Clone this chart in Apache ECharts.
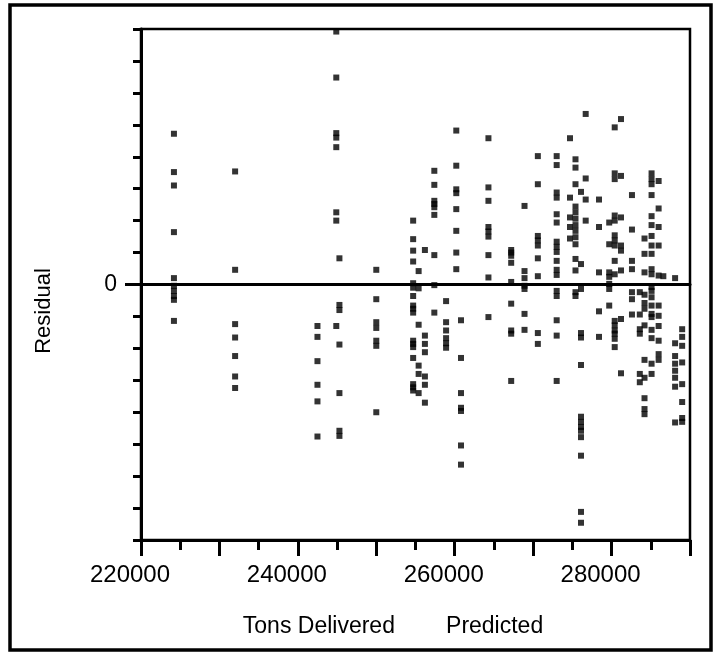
<!DOCTYPE html>
<html>
<head>
<meta charset="utf-8">
<title>Residual vs Predicted</title>
<script src="https://cdn.jsdelivr.net/npm/echarts@6/dist/echarts.min.js"></script>
<style>
html, body { margin: 0; padding: 0; background: #fff; }
#chart { width: 717px; height: 654px; }
</style>
</head>
<body>
<div id="chart"></div>
<script>
// predicted tons delivered (one value per vertical group of points)
const predictedLevels = [
  224200, 232000, 242500, 244900, 245300, 250000, 254700, 255400, 256200, 257400,
  258900, 260200, 260800, 264300, 267200, 268900, 270600, 273000, 274700, 275400,
  276100, 276700, 278400, 279700, 280400, 281200, 282600, 283600, 284200, 285100,
  286000, 286600, 288100, 289000
]

// residuals, same order as predictedLevels
const residualGroups = [
  [23600, 17600, 15500, 8200, 1000, -200, -1000, -1800, -2400, -5700],
  [17700, 2300, -6200, -8300, -11200, -14400, -16200],
  [-6500, -8200, -12000, -15700, -18300, -23800],
  [39600, 32400, 23700, 23000, 21500, 11300, 10000, -6500],
  [4100, -3200, -4000, -9400, -17000, -22900, -23700],
  [2300, -2300, -5900, -6800, -8800, -9600, -20000],
  [10000, 7100, 5300, 3600, 200, -500, -1800, -3300, -3800, -4400, -8800, -9300, -9800, -11500, -15600, -16100, -16600],
  [2100, -600, -6300, -12700, -14000, -17000],
  [5400, -8000, -9300, -10600, -14400, -15700, -18500],
  [17800, 15600, 13100, 12600, 12100, 10900, 4600, -100, -4400],
  [-2600, -5900, -7200, -8400, -9200, -9900],
  [24100, 18600, 14900, 14300, 11800, 8400, 5000, 2400],
  [-5600, -11500, -17000, -19300, -19800, -25200, -28200],
  [22900, 15200, 13100, 9000, 8300, 7500, 4600, 1100, -5100],
  [5400, 5000, 4500, 3400, 400, -3000, -7200, -7700, -15100],
  [12300, 2100, 1000, -200, -700, -4600, -7100],
  [20100, 15700, 7600, 6900, 6100, 4100, 1300, -7600, -9300],
  [20100, 18700, 14400, 13600, 11000, 9700, 6700, 5900, 5100, 3700, 2300, 1500, -1000, -1800, -5600, -8000, -15100],
  [22900, 13600, 10500, 9000, 7200],
  [19600, 18300, 15700, 12200, 11300, 10300, 9300, 8400, 7400, 6300, 4000, 2200, -1200, -1800],
  [14500, 3200, -700, -7600, -8300, -12600, -20700, -21500, -22300, -22900, -23900, -26800, -35600, -37300],
  [26700, 16600, 13300, 10000],
  [13300, 9000, 1900, -4200, -8200],
  [9700, 6300, 1900, 1200, 100, -700, -3300],
  [24600, 17400, 16500, 10800, 10000, 7700, 6900, 6100, 3700, 1600, -5700, -6400, -7200, -7700, -8500, -9800],
  [25900, 17000, 10500, 6100, 5300, 2200, -5400, -13900],
  [14000, 8600, 3700, 2400, -1200, -2300, -4700],
  [-1200, -4700, -7000, -7700, -14000, -15300],
  [7200, 4800, 1900, -1600, -2900, -3800, -6400, -11800, -14600, -17800, -19500, -20300],
  [17400, 16500, 15700, 14000, 10700, 9300, 7600, 6100, 4800, 2400, 1600, -400, -1000, -2000, -3300, -4600, -5100, -7100, -8400, -12400, -14000],
  [16200, 11900, 9000, 6100, 1400, -3300, -4900, -6500, -8800, -10900, -11800],
  [1300],
  [1000, -9200, -11200, -12400, -13500, -14600, -16000, -21600],
  [-7000, -8200, -9600, -12200, -15600, -18400, -20900, -21500]
]

const xTickLabels = [220000, 240000, 260000, 280000]
const yTickLabels = [0]

const font = 'Liberation Sans, Arial, sans-serif'

const points = []
predictedLevels.forEach((x, i) => {
  residualGroups[i].forEach(r => points.push([x, r]))
})

const chart = echarts.init(document.getElementById('chart'), null, { renderer: 'canvas' })

const option = {
  animation: false,
  backgroundColor: '#fff',
  // outer border of the figure
  graphic: [{
    type: 'rect',
    shape: { x: 10, y: 5, width: 701, height: 645 },
    style: { fill: 'none', stroke: '#000', lineWidth: 3.5 },
    silent: true
  }],
  grid: {
    left: 141,
    top: 29,
    width: 549,
    height: 511,
    show: true,
    borderColor: '#000',
    borderWidth: 2.5,
    backgroundColor: 'transparent'
  },
  xAxis: [{
    type: 'value',
    min: 220000,
    max: 290000,
    interval: 10000,
    axisLine: { show: true, onZero: false, lineStyle: { color: '#000', width: 3 } },
    axisTick: { show: true, length: 16, lineStyle: { color: '#000', width: 3 } },
    minorTick: { show: true, splitNumber: 2, length: 10, lineStyle: { color: '#000', width: 3 } },
    splitLine: { show: false },
    axisLabel: {
      color: '#000',
      fontSize: 24,
      fontFamily: font,
      margin: 23,
      padding: [0, 22, 0, 0],
      formatter: v => (xTickLabels.includes(v) ? String(v) : '')
    },
    name: 'Tons Delivered        Predicted',
    nameLocation: 'middle',
    nameGap: 75,
    nameTextStyle: { color: '#000', fontSize: 23, fontFamily: font, padding: [0, 45, 0, 0] }
  }, {
    // zero reference line
    type: 'value',
    min: 220000,
    max: 290000,
    axisLine: { show: true, onZero: true, onZeroAxisIndex: 0, lineStyle: { color: '#000', width: 3 } },
    axisTick: { show: false },
    axisLabel: { show: false },
    splitLine: { show: false }
  }],
  yAxis: [{
    type: 'value',
    min: -40000,
    max: 40000,
    interval: 5000,
    axisLine: { show: true, onZero: false, lineStyle: { color: '#000', width: 3 } },
    axisTick: { show: true, length: 8, lineStyle: { color: '#000', width: 3 } },
    splitLine: { show: false },
    axisLabel: {
      color: '#000',
      fontSize: 23,
      fontFamily: font,
      margin: 24,
      formatter: v => (yTickLabels.includes(v) ? String(v) : '')
    },
    name: 'Residual',
    nameLocation: 'middle',
    nameGap: 86,
    nameTextStyle: { color: '#000', fontSize: 22, fontFamily: font, padding: [0, 53, 0, 0] }
  }, {
    // longer tick at zero
    type: 'value',
    position: 'left',
    min: -40000,
    max: 40000,
    interval: 40000,
    axisLine: { show: false, onZero: false },
    axisTick: { show: true, length: 16, customValues: [0], lineStyle: { color: '#000', width: 3 } },
    axisLabel: { show: false },
    splitLine: { show: false }
  }],
  series: [{
    type: 'scatter',
    xAxisIndex: 0,
    yAxisIndex: 0,
    symbol: 'rect',
    symbolSize: 6,
    itemStyle: { color: '#000' },
    data: points
  }]
}

chart.setOption(option)
</script>
</body>
</html>
